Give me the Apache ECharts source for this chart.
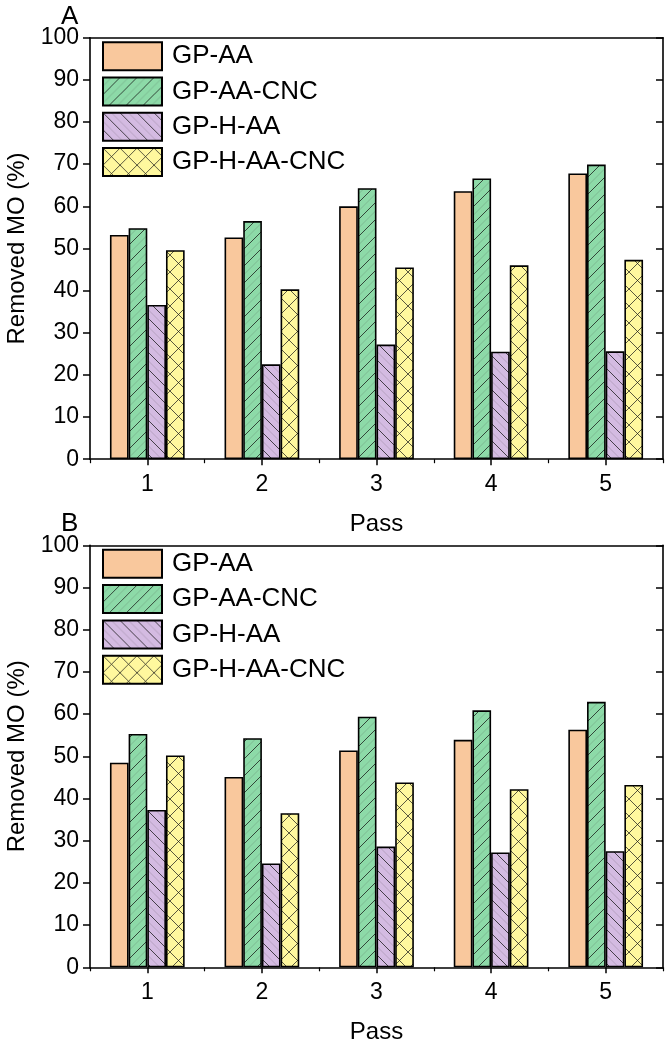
<!DOCTYPE html>
<html>
<head>
<meta charset="utf-8">
<script src="https://cdn.jsdelivr.net/npm/echarts@6/dist/echarts.min.js"></script>
<style>
html,body{margin:0;padding:0;background:#fff;}
#chart{width:666px;height:1051px;}
</style>
</head>
<body>
<div id="chart"></div>
<script>
const categories = ['1', '2', '3', '4', '5'];
const seriesNames = ['GP-AA', 'GP-AA-CNC', 'GP-H-AA', 'GP-H-AA-CNC'];
const panelLabels = ['A', 'B'];
const yTicks = [0, 10, 20, 30, 40, 50, 60, 70, 80, 90, 100];
// Panel A
const A_GP_AA      = [53.2, 52.6, 60.0, 63.6, 67.8];
const A_GP_AA_CNC  = [54.8, 56.5, 64.3, 66.6, 69.9];
const A_GP_H_AA    = [36.6, 22.5, 27.2, 25.5, 25.6];
const A_GP_H_AA_CNC= [49.6, 40.3, 45.5, 46.0, 47.3];
// Panel B
const B_GP_AA      = [48.5, 45.1, 51.4, 53.9, 56.3];
const B_GP_AA_CNC  = [55.3, 54.3, 59.4, 60.9, 62.9];
const B_GP_H_AA    = [37.3, 24.6, 28.6, 27.2, 27.5];
const B_GP_H_AA_CNC= [50.2, 36.5, 43.8, 42.2, 43.2];

const panelData = [
  [A_GP_AA, A_GP_AA_CNC, A_GP_H_AA, A_GP_H_AA_CNC],
  [B_GP_AA, B_GP_AA_CNC, B_GP_H_AA, B_GP_H_AA_CNC]
];

function makePattern(bg, kind) {
  const s = 17;
  const c = document.createElement('canvas');
  c.width = s; c.height = s;
  const g = c.getContext('2d');
  g.fillStyle = bg;
  g.fillRect(0, 0, s, s);
  function fwd(off, col, w) { // "/" lines
    g.strokeStyle = col; g.lineWidth = w;
    g.beginPath();
    for (let k = -1; k <= 1; k++) {
      g.moveTo(-2 + k * s + off, s + 2);
      g.lineTo(s + 2 + k * s + off, -2);
    }
    g.stroke();
  }
  function back(off, col, w) { // "\" lines
    g.strokeStyle = col; g.lineWidth = w;
    g.beginPath();
    for (let k = -1; k <= 1; k++) {
      g.moveTo(-2 + k * s + off, -2);
      g.lineTo(s + 2 + k * s + off, s + 2);
    }
    g.stroke();
  }
  if (kind === 'fwd') { fwd(0, 'rgba(20,20,20,0.75)', 1); fwd(s / 2, 'rgba(60,60,60,0.2)', 1); }
  if (kind === 'back') { back(0, 'rgba(20,20,20,0.75)', 1); back(s / 2, 'rgba(60,60,60,0.2)', 1); }
  if (kind === 'cross') { fwd(0, 'rgba(20,20,20,0.7)', 1); back(0, 'rgba(20,20,20,0.7)', 1); }
  return c;
}

const fills = [
  '#F9C89D',
  {image: makePattern('#8DDAA8', 'fwd'), repeat: 'repeat'},
  {image: makePattern('#D4BBE2', 'back'), repeat: 'repeat'},
  {image: makePattern('#FFF89E', 'cross'), repeat: 'repeat'}
];

const FONT = 'Liberation Sans, Arial, sans-serif';
const grids = [
  {left: 90, right: 3, top: 37.7, height: 421.5, containLabel: false, outerBoundsMode: 'none'},
  {left: 90, right: 3, top: 545.3, height: 422, containLabel: false, outerBoundsMode: 'none'}
];

const xAxes = [], yAxes = [], series = [], legends = [], titles = [];
grids.forEach((gr, p) => {
  xAxes.push({
    gridIndex: p, type: 'category', data: categories, position: 'bottom',
    axisLine: {show: true, lineStyle: {color: '#000', width: 1.6}},
    axisTick: {show: true, alignWithLabel: true, length: 6, lineStyle: {color: '#000', width: 1.5}},
    axisLabel: {show: true, color: '#000', fontSize: 23, fontFamily: FONT, margin: 14},
    name: 'Pass', nameLocation: 'middle', nameGap: 53,
    nameTextStyle: {color: '#000', fontSize: 24, fontFamily: FONT},
    splitLine: {show: false}
  });
  xAxes.push({
    gridIndex: p, type: 'category', data: categories, position: 'bottom',
    axisLine: {show: false},
    axisTick: {show: true, alignWithLabel: false, length: 4, lineStyle: {color: '#000', width: 1.2}},
    axisLabel: {show: false}, splitLine: {show: false}
  });
  xAxes.push({
    gridIndex: p, type: 'category', data: categories, position: 'top',
    axisLine: {show: true, lineStyle: {color: '#000', width: 1.6}},
    axisTick: {show: false}, axisLabel: {show: false}, splitLine: {show: false}
  });
  yAxes.push({
    gridIndex: p, type: 'value', min: yTicks[0], max: yTicks[yTicks.length - 1], interval: 10, position: 'left',
    axisLine: {show: true, lineStyle: {color: '#000', width: 1.6}},
    axisTick: {show: true, length: 7, lineStyle: {color: '#000', width: 1.5}},
    axisLabel: {show: true, color: '#000', fontSize: 23, fontFamily: FONT, margin: 11},
    name: 'Removed MO (%)', nameLocation: 'middle', nameGap: 61,
    nameTextStyle: {color: '#000', fontSize: 24, fontFamily: FONT},
    splitLine: {show: false}
  });
  yAxes.push({
    gridIndex: p, type: 'value', min: yTicks[0], max: yTicks[yTicks.length - 1], interval: 10, position: 'right',
    axisLine: {show: true, lineStyle: {color: '#000', width: 1.6}},
    axisTick: {show: true, inside: true, length: 7, lineStyle: {color: '#000', width: 1.5}},
    axisLabel: {show: false}, splitLine: {show: false}
  });
  seriesNames.forEach((nm, i) => {
    series.push({
      name: nm, type: 'bar', xAxisIndex: p * 3, yAxisIndex: p * 2,
      data: panelData[p][i], barWidth: '16.3%', barGap: '0%',
      itemStyle: {color: fills[i], borderColor: '#000', borderWidth: 1.6},
      emphasis: {disabled: true}, animation: false
    });
  });
  legends.push({
    orient: 'vertical', left: 102, top: gr.top + 3.5, padding: 0,
    itemWidth: 59, itemHeight: 28, itemGap: 5.3, icon: 'rect',
    data: seriesNames.map(n => ({name: n, icon: 'rect'})),
    textStyle: {color: '#000', fontSize: 26, fontFamily: FONT, padding: [0, 0, 0, 5]},
    selectedMode: false
  });
  titles.push({
    text: panelLabels[p], left: 61, top: gr.top - 34,
    textStyle: {color: '#000', fontSize: 26, fontWeight: 'normal', fontFamily: FONT}, padding: 0
  });
});

const chart = echarts.init(document.getElementById('chart'), null, {renderer: 'canvas'});
chart.setOption({
  backgroundColor: '#fff',
  animation: false,
  title: titles,
  grid: grids,
  xAxis: xAxes,
  yAxis: yAxes,
  legend: legends,
  series: series
});
</script>
</body>
</html>
